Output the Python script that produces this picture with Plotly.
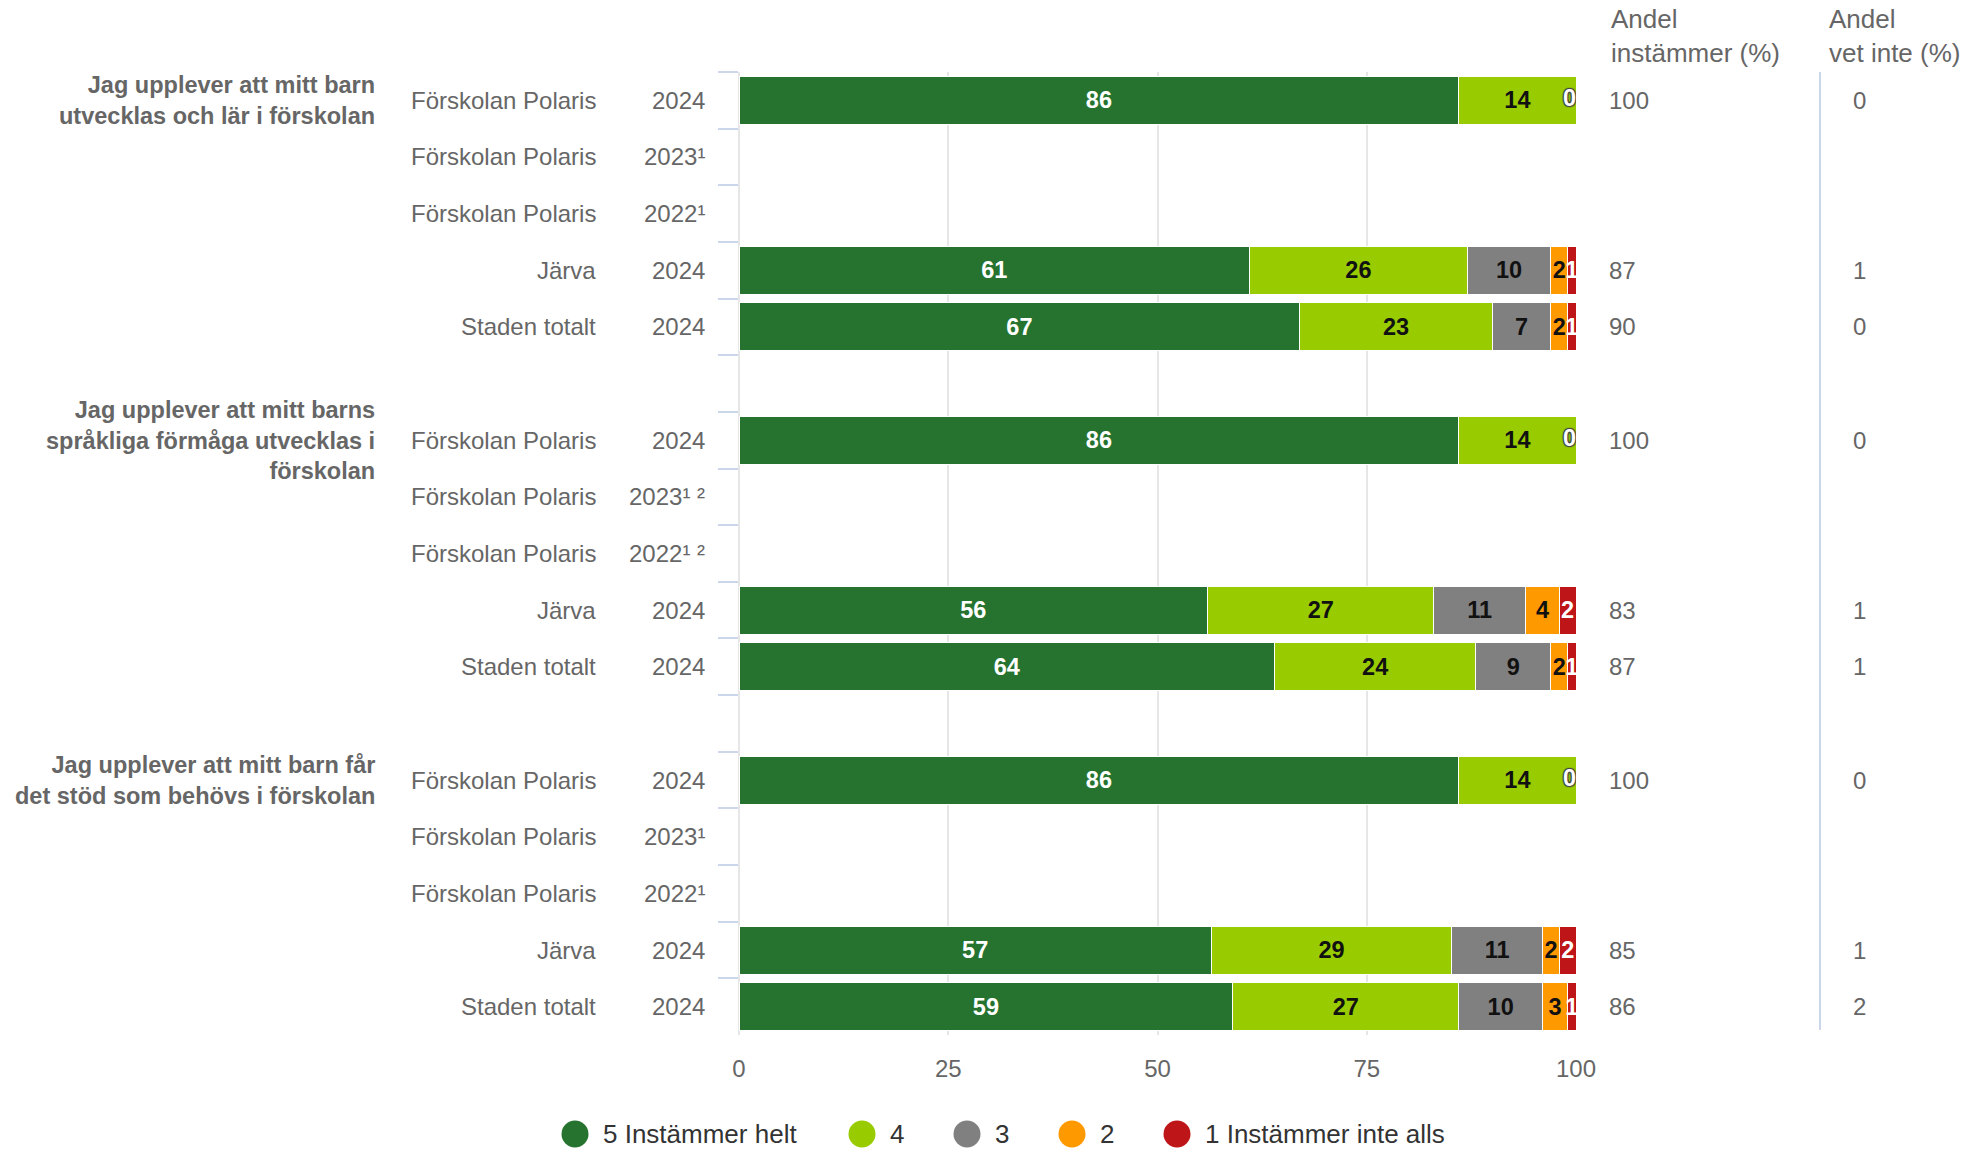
import plotly.graph_objects as go

# ---------------- data ----------------
questions = [
    "Jag upplever att mitt barn<br>utvecklas och lär i förskolan",
    "Jag upplever att mitt barns<br>språkliga förmåga utvecklas i<br>förskolan",
    "Jag upplever att mitt barn får<br>det stöd som behövs i förskolan",
]
units = ["Förskolan Polaris", "Förskolan Polaris", "Förskolan Polaris", "Järva", "Staden totalt"]
years = [
    ["2024", "2023¹", "2022¹", "2024", "2024"],
    ["2024", "2023¹ ²", "2022¹ ²", "2024", "2024"],
    ["2024", "2023¹", "2022¹", "2024", "2024"],
]
series_names = ["5 Instämmer helt", "4", "3", "2", "1 Instämmer inte alls"]
series_colors = ["#267330", "#99cc00", "#808080", "#ff9900", "#bd1518"]
label_colors = ["#ffffff", "#111111", "#111111", "#111111", "#ffffff"]

s5 = [[86, None, None, 61, 67], [86, None, None, 56, 64], [86, None, None, 57, 59]]
s4 = [[14, None, None, 26, 23], [14, None, None, 27, 24], [14, None, None, 29, 27]]
s3 = [[0, None, None, 10, 7], [0, None, None, 11, 9], [0, None, None, 11, 10]]
s2 = [[0, None, None, 2, 2], [0, None, None, 4, 2], [0, None, None, 2, 3]]
s1 = [[0, None, None, 1, 1], [0, None, None, 2, 1], [0, None, None, 2, 1]]
series_values = [s5, s4, s3, s2, s1]

andel_instammer = [[100, None, None, 87, 90], [100, None, None, 83, 87], [100, None, None, 85, 86]]
andel_vet_inte = [[0, None, None, 1, 0], [0, None, None, 1, 1], [0, None, None, 1, 2]]

header_instammer = "Andel<br>instämmer (%)"
header_vet_inte = "Andel<br>vet inte (%)"
x_ticks = [0, 25, 50, 75, 100]

# ---------------- layout geometry (pixels) ----------------
W_FIG, H_FIG = 1970, 1150
L, R, T, B = 739, 1576, 72, 1035
PW, PH = R - L, B - T


def px(xp):
    return (xp - L) / PW


def py(yp):
    return (B - yp) / PH


FONT = "Liberation Sans, Arial, sans-serif"
GRAY = "#666666"

# ---------------- categories ----------------
cats = []
row_info = []  # (qi, ri) or None for gaps
for qi in range(len(questions)):
    for ri in range(len(units)):
        cats.append(f"q{qi}r{ri}")
        row_info.append((qi, ri))
    if qi < len(questions) - 1:
        cats.append(f"gap{qi}")
        row_info.append(None)


def flat(arr):
    out = []
    for info in row_info:
        out.append(None if info is None else arr[info[0]][info[1]])
    return out


fig = go.Figure()

for k, name in enumerate(series_names):
    vals = flat(series_values[k])
    texts = ["" if (v is None or v == 0) else str(v) for v in vals]
    fig.add_trace(go.Bar(
        x=vals, y=cats, orientation="h", name=name,
        marker=dict(color=series_colors[k], line=dict(color="#ffffff", width=1)),
        text=texts, texttemplate="<b>%{text}</b>", textposition="inside",
        insidetextanchor="middle", textangle=0, constraintext="none",
        insidetextfont=dict(family=FONT, size=23.5, color=label_colors[k]),
        showlegend=False, hoverinfo="skip",
    ))

# zero labels placed at the stack end
zx, zy = [], []
for c, info in zip(cats, row_info):
    if info is None:
        continue
    vals = [series_values[k][info[0]][info[1]] for k in range(len(series_names))]
    if vals[0] is None:
        continue
    tot = sum(vals)
    for k, v in enumerate(vals):
        if v == 0:
            zx.append(sum(vals[:k]) / tot * 100)
            zy.append(c)
            break
fig.add_trace(go.Scatter(
    x=zx, y=zy, mode="text", text=["<b>0</b>"] * len(zx), cliponaxis=True,
    textposition="middle left",
    textfont=dict(family=FONT, size=23.5, color="#ffffff",
                  shadow="1px 1px 1px #444, -1px -1px 1px #444, 1px -1px 1px #444, -1px 1px 1px #444"),
    showlegend=False, hoverinfo="skip",
))

annotations = []
# question texts
for qi, q in enumerate(questions):
    annotations.append(dict(
        text=f"<b>{q}</b>", xref="paper", yref="y", x=px(377), y=f"q{qi}r0",
        xanchor="right", yanchor="middle", align="right", showarrow=False,
        font=dict(family=FONT, size=23.5, color=GRAY),
    ))
# unit, year and right-side values
for c, info in zip(cats, row_info):
    if info is None:
        continue
    qi, ri = info
    annotations.append(dict(
        text=units[ri], xref="paper", yref="y", x=px(598), y=c,
        xanchor="right", yanchor="middle", showarrow=False,
        font=dict(family=FONT, size=24, color=GRAY),
    ))
    annotations.append(dict(
        text=years[qi][ri], xref="paper", yref="y", x=px(707), y=c,
        xanchor="right", yanchor="middle", showarrow=False,
        font=dict(family=FONT, size=24, color=GRAY),
    ))
    a = andel_instammer[qi][ri]
    if a is not None:
        annotations.append(dict(
            text=str(a), xref="paper", yref="y", x=px(1607), y=c,
            xanchor="left", yanchor="middle", showarrow=False,
            font=dict(family=FONT, size=24, color=GRAY),
        ))
    v = andel_vet_inte[qi][ri]
    if v is not None:
        annotations.append(dict(
            text=str(v), xref="paper", yref="y", x=px(1859), y=c,
            xanchor="center", yanchor="middle", showarrow=False,
            font=dict(family=FONT, size=24, color=GRAY),
        ))
# headers
annotations.append(dict(
    text=header_instammer, xref="paper", yref="paper", x=px(1609), y=py(36),
    xanchor="left", yanchor="middle", align="left", showarrow=False,
    font=dict(family=FONT, size=26, color=GRAY),
))
annotations.append(dict(
    text=header_vet_inte, xref="paper", yref="paper", x=px(1827), y=py(36),
    xanchor="left", yanchor="middle", align="left", showarrow=False,
    font=dict(family=FONT, size=26, color=GRAY),
))

shapes = [dict(type="line", xref="paper", yref="paper", x0=px(1820), x1=px(1820),
               y0=py(72), y1=py(1030), line=dict(color="#ccd6eb", width=2))]

# manual legend (circle markers)
legend_circle_x = [575, 862, 967, 1072, 1177]
legend_y = 1134
for k, name in enumerate(series_names):
    cx = legend_circle_x[k]
    shapes.append(dict(
        type="circle", xref="paper", yref="paper", xsizemode="pixel", ysizemode="pixel",
        xanchor=px(cx), yanchor=py(legend_y), x0=-13.5, x1=13.5, y0=-13.5, y1=13.5,
        fillcolor=series_colors[k], line=dict(width=0),
    ))
    annotations.append(dict(
        text=name, xref="paper", yref="paper", x=px(cx + 26), y=py(legend_y),
        xanchor="left", yanchor="middle", showarrow=False,
        font=dict(family=FONT, size=26, color="#333333"),
    ))

fig.update_layout(
    width=W_FIG, height=H_FIG,
    margin=dict(l=L, r=W_FIG - R, t=T, b=H_FIG - B, pad=0),
    barmode="stack", barnorm="percent", bargap=0.152,
    plot_bgcolor="#ffffff", paper_bgcolor="#ffffff",
    font=dict(family=FONT, color=GRAY),
    annotations=annotations, shapes=shapes,
    hovermode=False,
    xaxis=dict(range=[0, 100], tickvals=x_ticks, ticktext=[str(t) for t in x_ticks],
               showgrid=True, gridcolor="#e6e6e6", gridwidth=1.5,
               zeroline=True, zerolinecolor="#e6e6e6", zerolinewidth=1.5,
               showline=False, ticks="", ticklabelstandoff=17,
               tickfont=dict(family=FONT, size=24, color=GRAY), fixedrange=True),
    yaxis=dict(type="category", categoryorder="array", categoryarray=cats,
               range=[len(cats) - 0.5, -0.5], showticklabels=False,
               ticks="outside", tickson="boundaries", ticklen=20, tickwidth=2,
               tickcolor="#ccd6eb", showgrid=False, zeroline=False, showline=False,
               fixedrange=True),
)

fig.write_html("out.html", config={"displayModeBar": False},
               post_script="document.body.style.margin='0';")
